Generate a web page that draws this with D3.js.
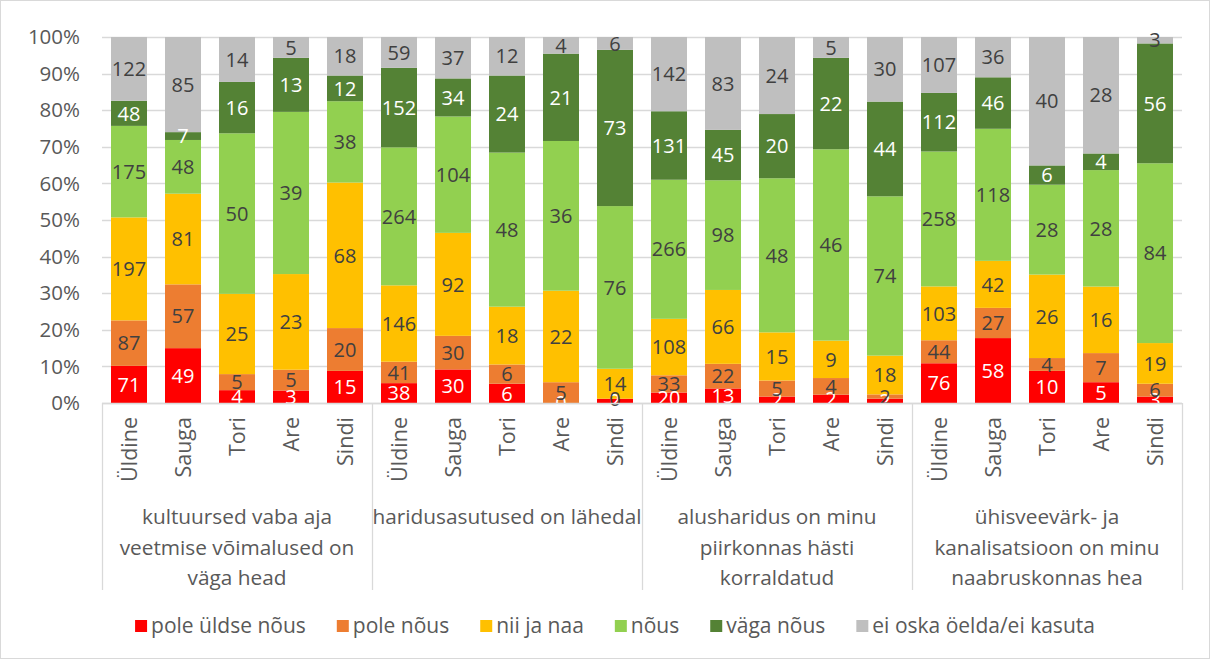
<!DOCTYPE html>
<html>
<head>
<meta charset="utf-8">
<script src="https://cdn.jsdelivr.net/npm/d3@7"></script>
<style>
  body { margin: 0; background: #fff; }
  svg text { font-family: "Open Sans", "Noto Sans", sans-serif; }
</style>
</head>
<body>
<svg id="chart" width="1211" height="660"></svg>
<script>
// categories
const places = ["Üldine", "Sauga", "Tori", "Are", "Sindi"];
const groupLabels = [
    ["kultuursed vaba aja", "veetmise võimalused on", "väga head"],
    ["haridusasutused on lähedal"],
    ["alusharidus on minu", "piirkonnas hästi", "korraldatud"],
    ["ühisveevärk- ja", "kanalisatsioon on minu", "naabruskonnas hea"]
];
const seriesNames = ["pole üldse nõus", "pole nõus", "nii ja naa", "nõus", "väga nõus", "ei oska öelda/ei kasuta"];
const seriesColors = ["#ff0000", "#ed7d31", "#ffc000", "#92d050", "#548235", "#bfbfbf"];
const labelColors = ["#ffffff", "#404040", "#404040", "#404040", "#ffffff", "#404040"];
const yTicks = [0, 0.1, 0.2, 0.3, 0.4, 0.5, 0.6, 0.7, 0.8, 0.9, 1];

// series values, 4 groups x 5 places
const poleYldse = [71, 49, 4, 3, 15, 38, 30, 6, 0, 2, 20, 13, 2, 2, 2, 76, 58, 10, 5, 3];
const poleNous = [87, 57, 5, 5, 20, 41, 30, 6, 5, 0, 33, 22, 5, 4, 2, 44, 27, 4, 7, 6];
const niiJaNaa = [197, 81, 25, 23, 68, 146, 92, 18, 22, 14, 108, 66, 15, 9, 18, 103, 42, 26, 16, 19];
const nous = [175, 48, 50, 39, 38, 264, 104, 48, 36, 76, 266, 98, 48, 46, 74, 258, 118, 28, 28, 84];
const vagaNous = [48, 7, 16, 13, 12, 152, 34, 24, 21, 73, 131, 45, 20, 22, 44, 112, 46, 6, 4, 56];
const eiOska = [122, 85, 14, 5, 18, 59, 37, 12, 4, 6, 142, 83, 24, 5, 30, 107, 36, 40, 28, 3];

const allSeries = [poleYldse, poleNous, niiJaNaa, nous, vagaNous, eiOska];

// build rows for d3.stack
const rows = poleYldse.map((_, i) => {
    const row = { idx: i, place: places[i % 5], group: Math.floor(i / 5) };
    seriesNames.forEach((s, k) => row[s] = allSeries[k][i]);
    return row;
});

const svg = d3.select("#chart");
const plot = { left: 102, right: 1182, top: 37, bottom: 403 };
const gridColor = "#d9d9d9";
const textColor = "#595959";

// outer frame
svg.append("rect")
    .attr("x", 0.5).attr("y", 0.5)
    .attr("width", 1209).attr("height", 658)
    .attr("fill", "#fff").attr("stroke", gridColor);

const x = d3.scaleBand()
    .domain(rows.map(d => d.idx))
    .range([plot.left, plot.right])
    .paddingInner(1 / 3)
    .paddingOuter(1 / 6);

const y = d3.scaleLinear()
    .domain([0, 1])
    .range([plot.bottom, plot.top]);

// gridlines
svg.append("g")
    .selectAll("line")
    .data(yTicks)
    .join("line")
    .attr("x1", plot.left).attr("x2", plot.right)
    .attr("y1", d => Math.round(y(d)) + 0.5)
    .attr("y2", d => Math.round(y(d)) + 0.5)
    .attr("stroke", gridColor)
    .attr("stroke-width", 1.3);

// y labels
svg.append("g")
    .selectAll("text")
    .data(yTicks)
    .join("text")
    .attr("x", 80)
    .attr("y", d => y(d))
    .attr("dy", "0.35em")
    .attr("text-anchor", "end")
    .attr("font-size", 20.5)
    .attr("fill", textColor)
    .text(d => d3.format(".0%")(d));

// stacked bars
const stack = d3.stack()
    .keys(seriesNames)
    .offset(d3.stackOffsetExpand);
const stacked = stack(rows);

const layers = svg.append("g")
    .selectAll("g")
    .data(stacked)
    .join("g")
    .attr("fill", (d, i) => seriesColors[i]);

layers.selectAll("rect")
    .data(d => d)
    .join("rect")
    .attr("x", d => x(d.data.idx))
    .attr("width", x.bandwidth())
    .attr("y", d => y(d[1]))
    .attr("height", d => y(d[0]) - y(d[1]));

// data labels
const labels = svg.append("g")
    .selectAll("g")
    .data(stacked)
    .join("g")
    .attr("fill", (d, i) => labelColors[i]);

labels.selectAll("text")
    .data(d => d.map(p => ({ p, key: d.key })))
    .join("text")
    .attr("x", d => x(d.p.data.idx) + x.bandwidth() / 2)
    .attr("y", d => y((d.p[0] + d.p[1]) / 2))
    .attr("dy", "0.36em")
    .attr("text-anchor", "middle")
    .attr("font-size", 20)
    .text(d => d.p.data[d.key]);

// category axis
const axisBottom = 590;
svg.append("line")
    .attr("x1", plot.left).attr("x2", plot.right)
    .attr("y1", plot.bottom + 0.5).attr("y2", plot.bottom + 0.5)
    .attr("stroke", gridColor).attr("stroke-width", 1.3);

const groupStep = (plot.right - plot.left) / groupLabels.length;
svg.append("g")
    .selectAll("line")
    .data(d3.range(groupLabels.length + 1))
    .join("line")
    .attr("x1", d => plot.left + d * groupStep + 0.5)
    .attr("x2", d => plot.left + d * groupStep + 0.5)
    .attr("y1", plot.bottom)
    .attr("y2", axisBottom)
    .attr("stroke", gridColor)
    .attr("stroke-width", 1.3);

// place labels, rotated
svg.append("g")
    .selectAll("text")
    .data(rows)
    .join("text")
    .attr("transform", d => `translate(${x(d.idx) + x.bandwidth() / 2}, 417) rotate(-90)`)
    .attr("dy", "0.35em")
    .attr("text-anchor", "end")
    .attr("font-size", 21.5)
    .attr("fill", textColor)
    .text(d => d.place);

// group labels
const gl = svg.append("g")
    .selectAll("text")
    .data(groupLabels)
    .join("text")
    .attr("text-anchor", "middle")
    .attr("font-size", 20.8)
    .attr("fill", textColor);

gl.selectAll("tspan")
    .data((d, i) => d.map(line => ({ line, i })))
    .join("tspan")
    .attr("x", d => plot.left + (d.i + 0.5) * groupStep)
    .attr("y", (d, j) => 524 + j * 30.5)
    .text(d => d.line);

// legend
const legend = svg.append("g");
const items = legend.selectAll("g")
    .data(seriesNames)
    .join("g");

items.append("rect")
    .attr("width", 12).attr("height", 12)
    .attr("y", 620)
    .attr("fill", (d, i) => seriesColors[i]);

items.append("text")
    .attr("x", 16)
    .attr("y", 626)
    .attr("dy", "0.35em")
    .attr("font-size", 21)
    .attr("fill", textColor)
    .text(d => d);

let offset = 0;
const widths = [];
items.each(function () {
    const w = 16 + d3.select(this).select("text").node().getComputedTextLength();
    widths.push(w);
});
const gap = 31;
const total = d3.sum(widths) + gap * (widths.length - 1);
let startX = 615 - total / 2;
items.attr("transform", (d, i) => {
    const tx = startX + offset;
    offset += widths[i] + gap;
    return `translate(${tx},0)`;
});
</script>
</body>
</html>
